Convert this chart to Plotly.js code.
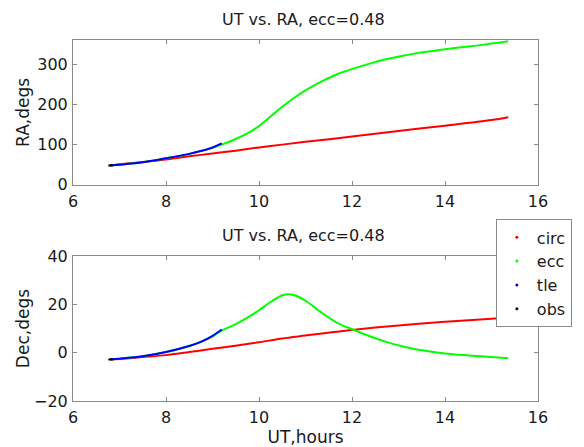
<!DOCTYPE html>
<html><head><meta charset="utf-8">
<script src="https://cdn.plot.ly/plotly-3.0.1.min.js"></script>
<style>html,body{margin:0;padding:0;background:#fff}#chart{width:584px;height:447px}</style>
</head><body><div id="chart"></div>
<script>
// UT hours vs RA / Dec (degrees)
const circX = [6.8, 7.0, 7.5, 8.0, 8.5, 9.0, 9.5, 10.0, 10.5, 11.0, 12.0, 13.0, 14.0, 15.0, 15.36];
const circRA = [48, 51, 57, 63, 71, 78, 85, 93, 100, 107, 120, 134, 147, 161, 168];
const circDec = [-2.8, -2.6, -1.8, -1.0, 0.3, 1.6, 2.9, 4.3, 5.9, 7.1, 9.4, 11.3, 12.8, 14.1, 14.6];

const eccRAX = [6.8, 7.0, 7.5, 8.0, 8.5, 9.0, 9.2, 9.5, 9.75, 10.0, 10.25, 10.5, 10.75, 11.0, 11.33, 11.68, 12.06, 12.4, 12.73, 13.1, 13.43, 14.0, 14.4, 14.84, 15.36];
const eccRA = [48, 50, 56, 66, 77, 92, 100, 114, 128, 146, 170, 194, 216, 235, 256, 275, 290, 302, 312, 321, 328, 337, 342.5, 348.5, 357];
const eccDecX = [6.8, 7.0, 7.5, 8.0, 8.5, 9.0, 9.2, 9.5, 9.75, 10.0, 10.25, 10.5, 10.65, 10.8, 11.04, 11.33, 11.68, 12.06, 12.4, 12.73, 13.1, 13.43, 14.0, 14.4, 14.84, 15.36];
const eccDec = [-2.8, -2.5, -1.5, 0.3, 2.8, 6.7, 9.2, 11.8, 14.5, 17.6, 21.0, 23.8, 24.2, 23.6, 21.0, 16.8, 12.4, 9.3, 6.7, 4.5, 2.6, 1.2, -0.3, -1.0, -1.6, -2.3];

const tleX = [6.8, 7.0, 7.5, 8.0, 8.5, 8.75, 9.0, 9.2];
const tleRA = [48, 50, 56, 66, 77, 84, 93, 103];
const tleDec = [-2.8, -2.5, -1.5, 0.3, 2.8, 4.5, 7.0, 9.6];

const obsX = [6.76, 6.86];
const obsRA = [48, 48.5];
const obsDec = [-2.8, -2.7];

const names = ['circ', 'ecc', 'tle', 'obs'];
const colors = ['#ff0000', '#00ff00', '#0000ff', '#000000'];
const titleText = 'UT vs. RA, ecc=0.48';

const FONT = 'DejaVu Sans, Verdana, sans-serif';
const TXT = '#1a1a1a';
function ln(x, y, c, ya) {
  return {x: x, y: y, xaxis: 'x' + (ya === 'y' ? '' : '2'), yaxis: ya, mode: 'lines',
    line: {color: c, width: 2, shape: 'spline', smoothing: 0.9}, showlegend: false, hoverinfo: 'skip'};
}
const traces = [
  ln(circX, circRA, colors[0], 'y'), ln(eccRAX, eccRA, colors[1], 'y'), ln(tleX, tleRA, colors[2], 'y'), ln(obsX, obsRA, colors[3], 'y'),
  ln(circX, circDec, colors[0], 'y2'), ln(eccDecX, eccDec, colors[1], 'y2'), ln(tleX, tleDec, colors[2], 'y2'), ln(obsX, obsDec, colors[3], 'y2')
];
names.forEach((n, i) => traces.push({x: [null], y: [null], xaxis: 'x2', yaxis: 'y2', mode: 'markers', name: n,
  marker: {color: colors[i], size: 3}, showlegend: true}));

const axCommon = {showline: true, mirror: 'ticks', linecolor: '#8a8a8a', linewidth: 1, ticks: 'inside', ticklen: 4,
  tickcolor: '#8a8a8a', showgrid: false, zeroline: false, tickfont: {family: FONT, size: 16, color: TXT}};
const xTicks = [6, 8, 10, 12, 14, 16];
const raTicks = [0, 100, 200, 300];
const decTicks = [-20, 0, 20, 40];
const layout = {
  width: 584, height: 447, paper_bgcolor: '#fff', plot_bgcolor: '#fff',
  margin: {l: 72.5, r: 37, t: 40, b: 45.7},
  font: {family: FONT, color: TXT},
  xaxis: Object.assign({}, axCommon, {domain: [0, 1], range: [6, 16], tickvals: xTicks, anchor: 'y', ticklabelstandoff: 2}),
  yaxis: Object.assign({}, axCommon, {domain: [0.5987, 1], range: [0, 360], tickvals: raTicks, anchor: 'x', ticklabelstandoff: 1,
    title: {text: 'RA,degs', font: {family: FONT, size: 17, color: TXT}, standoff: 3}}),
  xaxis2: Object.assign({}, axCommon, {domain: [0, 1], range: [6, 16], tickvals: xTicks, anchor: 'y2', ticklabelstandoff: 2,
    title: {text: 'UT,hours', font: {family: FONT, size: 17, color: TXT}, standoff: 1}}),
  yaxis2: Object.assign({}, axCommon, {domain: [0, 0.4013], range: [-20, 40], tickvals: decTicks, anchor: 'x2', ticklabelstandoff: 1,
    title: {text: 'Dec,degs', font: {family: FONT, size: 17, color: TXT}, standoff: 0}}),
  annotations: [
    {text: titleText, xref: 'paper', yref: 'paper', x: 0.496, y: 1, yshift: 20.7, showarrow: false, xanchor: 'center', yanchor: 'middle',
      font: {family: FONT, size: 16, color: TXT}},
    {text: titleText, xref: 'paper', yref: 'paper', x: 0.496, y: 0.4013, yshift: 20.6, showarrow: false, xanchor: 'center', yanchor: 'middle',
      font: {family: FONT, size: 16, color: TXT}}
  ],
  legend: {x: 0.9094, y: 0.503, xanchor: 'left', yanchor: 'top', bgcolor: '#fff', bordercolor: '#8a8a8a', borderwidth: 1,
    font: {family: FONT, size: 16, color: TXT}, itemwidth: 30, tracegroupgap: 0}
};
Plotly.newPlot('chart', traces, layout, {displayModeBar: false, staticPlot: true});
</script></body></html>
